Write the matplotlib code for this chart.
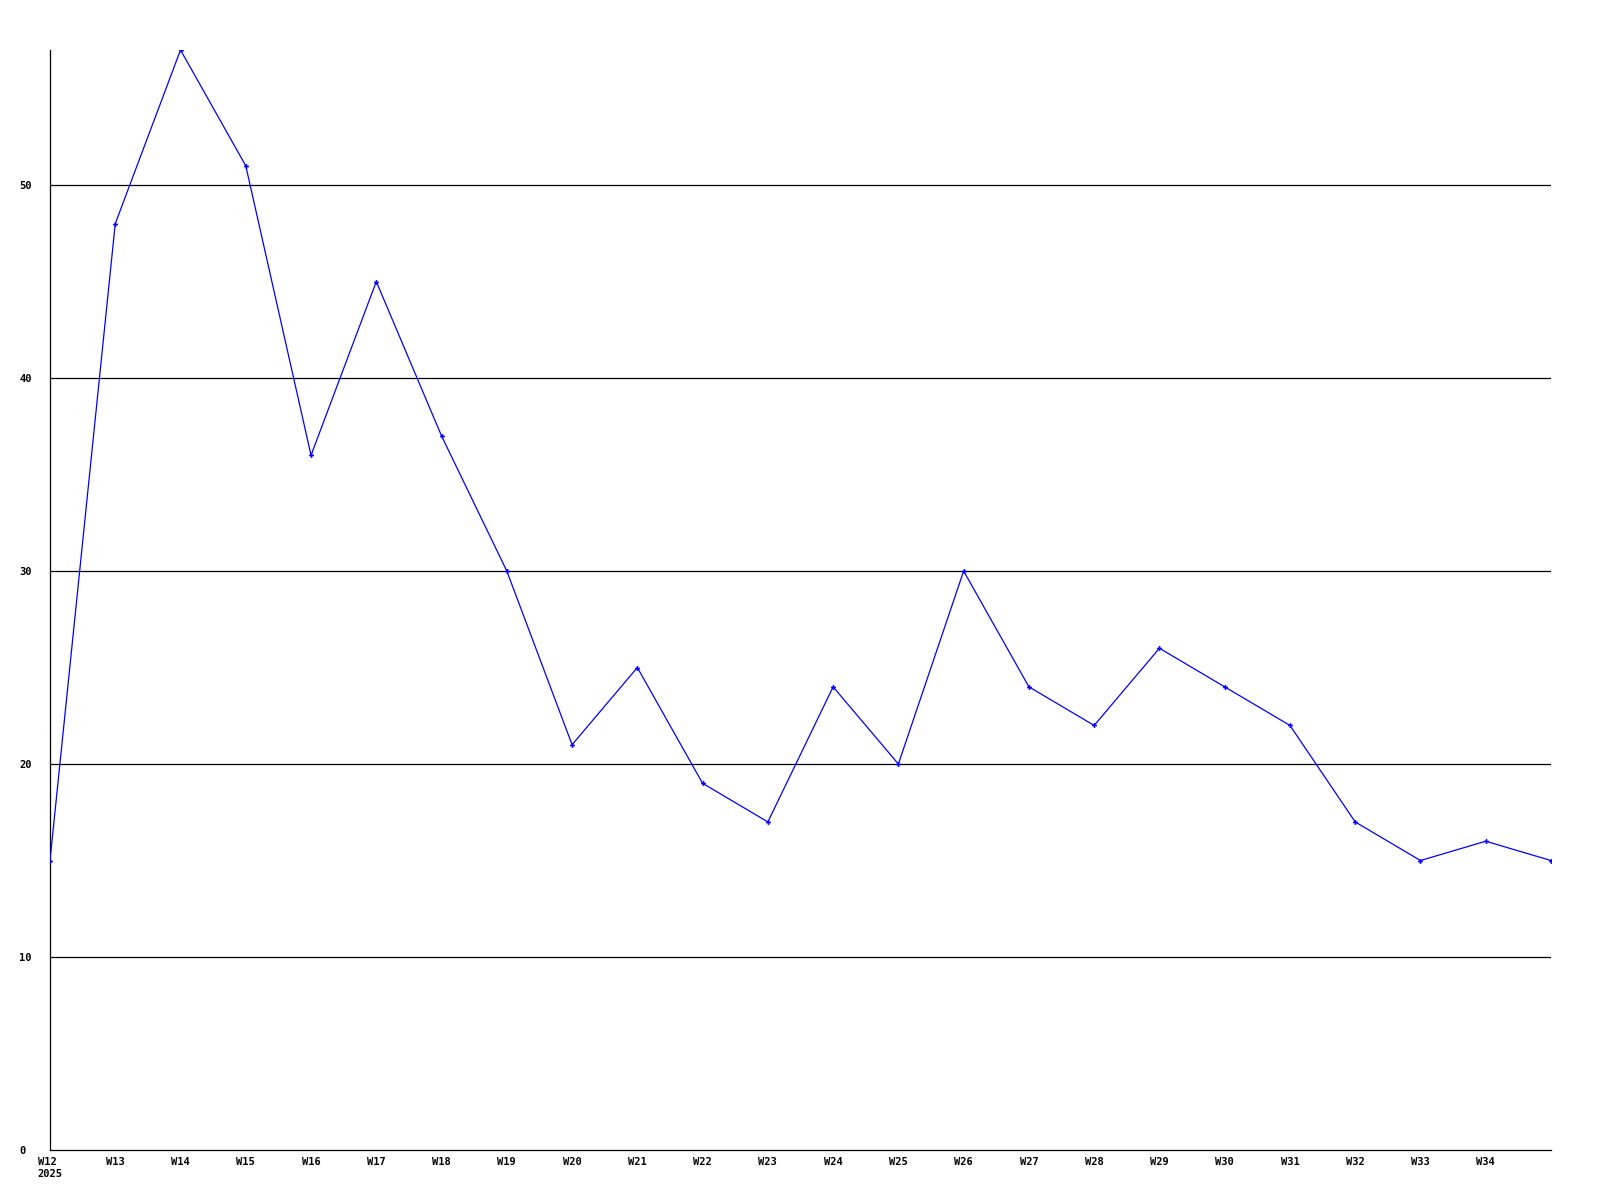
import matplotlib
matplotlib.use('Agg')
from matplotlib import pyplot as plt

weeks = ['W12', 'W13', 'W14', 'W15', 'W16', 'W17', 'W18', 'W19', 'W20', 'W21', 'W22', 'W23',
         'W24', 'W25', 'W26', 'W27', 'W28', 'W29', 'W30', 'W31', 'W32', 'W33', 'W34', 'W35']
values = [15, 48, 57, 51, 36, 45, 37, 30, 21, 25, 19, 17,
          24, 20, 30, 24, 22, 26, 24, 22, 17, 15, 16, 15]
tick_labels = ['W12\n2025'] + weeks[1:-1]
y_ticks = [0, 10, 20, 30, 40, 50]

plt.rcParams['font.family'] = 'DejaVu Sans Mono'
fig = plt.figure(figsize=(16, 12), dpi=100)
ax = fig.add_axes([50 / 1600, 50 / 1200, 1501 / 1600, 1100 / 1200])

x = list(range(len(weeks)))
ax.plot(x, values, color='#0000ff', linewidth=0.9, marker='P', markersize=3.5,
        markeredgewidth=0, zorder=3)

ax.set_xlim(0, len(weeks) - 1)
ax.set_ylim(0, 57)
ax.set_xticks(x[:-1])
ax.set_xticklabels(tick_labels, fontsize=7.5, fontweight='bold', multialignment='left')
ax.set_yticks(y_ticks)
ax.set_yticklabels([str(v) for v in y_ticks], fontsize=7.5, fontweight='bold')
for lab in ax.get_yticklabels():
    lab.set_horizontalalignment('left')
ax.tick_params(axis='y', length=0, pad=22)
ax.tick_params(axis='x', length=0, pad=5)

for v in y_ticks[1:]:
    ax.axhline(v, color='black', linewidth=0.9, zorder=1)

ax.spines['top'].set_visible(False)
ax.spines['right'].set_visible(False)
ax.spines['left'].set_linewidth(0.9)
ax.spines['bottom'].set_linewidth(0.9)

fig.savefig('out.png', dpi=100)
